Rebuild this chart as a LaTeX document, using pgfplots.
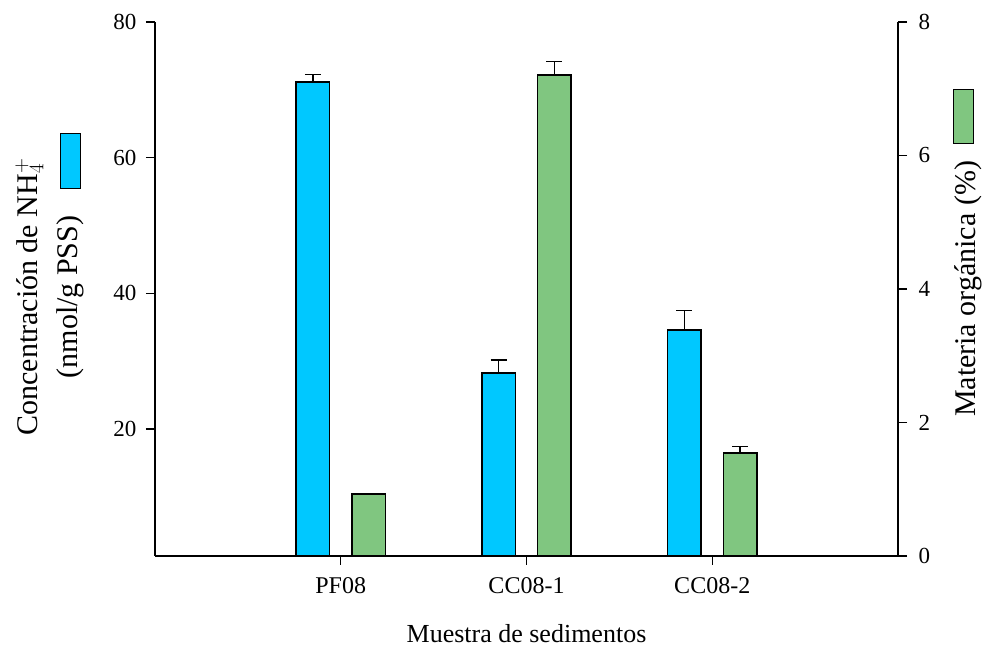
\documentclass[border=0pt]{standalone}
\usepackage{fontspec}
\setmainfont{Liberation Serif}
\usepackage{pgfplots}
\pgfplotsset{compat=1.18}
\definecolor{nhblue}{RGB}{0,200,255}
\definecolor{mogreen}{RGB}{128,198,128}

\begin{document}
\begin{tikzpicture}
\pgfplotsset{
  common/.style={
    scale only axis, width=743pt, height=534pt,
    xmin=0, xmax=4,
    clip mode=individual,
    axis line style={line width=1.3pt},
    tick style={line width=1.3pt, black},
    major tick length=9pt,
    tick align=outside,
    /pgf/number format/assume math mode=true,
    tick label style={font=\fontsize{23}{27}\selectfont},
    label style={font=\fontsize{30}{36}\selectfont},
    ybar, bar width=0.18,
    error bars/y dir=plus, error bars/y explicit,
    error bars/error bar style={line width=1.3pt, black},
    error bars/error mark options={rotate=90, mark size=8pt, line width=1.3pt, black},
  },
  barstyle/.style={fill=#1, draw=black, line width=1.6pt},
}
% NH4+ concentration (left scale)
\begin{axis}[common,
  ymin=1.3, ymax=80,
  axis x line*=bottom, axis y line*=left,
  ytick={20,40,60,80},
  yticklabel style={xshift=-6pt},
  xtick={1,2,3}, xticklabels={PF08,CC08-1,CC08-2},
  xticklabel style={font=\fontsize{24}{28}\selectfont, yshift=-9pt},
  xlabel={Muestra de sedimentos},
  ylabel={Concentración de NH$_4^+$\\[4pt](nmol/g PSS)},
  ylabel style={align=center, at={(axis description cs:-0.142,0.485)}, anchor=center},
  xlabel style={font=\fontsize{26}{30}\selectfont, at={(axis description cs:0.5,-0.146)}, anchor=center},
]
\coordinate (bl) at (rel axis cs:0,0);
\coordinate (tr) at (rel axis cs:1,1);
\addplot[barstyle=nhblue, bar shift=-0.15] coordinates {
  (1,71.2) +- (0,1.1)
  (2,28.3) +- (0,1.9)
  (3,34.6) +- (0,2.9)
};
\node[fill=nhblue, draw=black, line width=0.8pt, minimum width=20pt, minimum height=55pt, inner sep=0pt]
  at (axis description cs:-0.1144,0.739) {};
\end{axis}
% organic matter (right scale)
\begin{axis}[common,
  ymin=0, ymax=8,
  axis x line=none, axis y line*=right,
  ytick={0,2,4,6,8},
  yticklabel style={xshift=8pt},
  ylabel={Materia orgánica (\%)},
  ylabel style={at={(axis description cs:1.094,0.5)}, anchor=center},
]
\addplot[barstyle=mogreen, bar shift=0.15] coordinates {
  (1,0.93) +- (0,0)
  (2,7.21) +- (0,0.2)
  (3,1.54) +- (0,0.1)
};
\node[fill=mogreen, draw=black, line width=0.8pt, minimum width=20pt, minimum height=54pt, inner sep=0pt]
  at (axis description cs:1.0875,0.824) {};
\end{axis}
\path ([xshift=-155pt,yshift=-97pt]bl) rectangle ([xshift=90pt,yshift=22pt]tr);
\end{tikzpicture}
\end{document}
